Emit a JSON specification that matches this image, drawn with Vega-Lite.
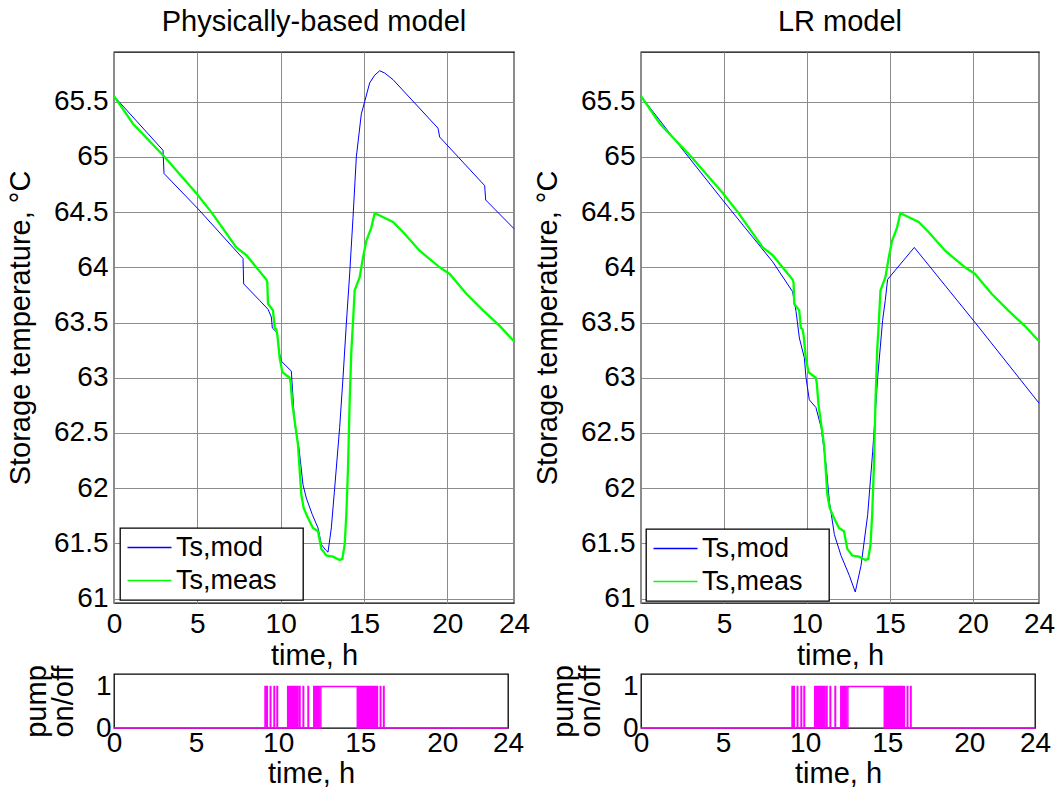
{
  "$schema": "https://vega.github.io/schema/vega-lite/v6.json",
  "autosize": "none",
  "padding": {"left": 114, "top": 52, "right": 946, "bottom": 739},
  "background": "white",
  "columns": 2,
  "spacing": {"row": 71, "column": 127},
  "bounds": "flush",
  "resolve": {"scale": {"color": "independent"}, "legend": {"color": "independent"}},
  "datasets": {
    "meas": [
      {"t": 0, "T": 65.55, "s": "Ts,meas"},
      {"t": 1.14, "T": 65.3, "s": "Ts,meas"},
      {"t": 3.04, "T": 65.0, "s": "Ts,meas"},
      {"t": 4.94, "T": 64.67, "s": "Ts,meas"},
      {"t": 5.84, "T": 64.5, "s": "Ts,meas"},
      {"t": 7.34, "T": 64.18, "s": "Ts,meas"},
      {"t": 7.94, "T": 64.11, "s": "Ts,meas"},
      {"t": 9.14, "T": 63.89, "s": "Ts,meas"},
      {"t": 9.2, "T": 63.86, "s": "Ts,meas"},
      {"t": 9.24, "T": 63.67, "s": "Ts,meas"},
      {"t": 9.54, "T": 63.61, "s": "Ts,meas"},
      {"t": 9.64, "T": 63.45, "s": "Ts,meas"},
      {"t": 9.74, "T": 63.44, "s": "Ts,meas"},
      {"t": 9.8, "T": 63.39, "s": "Ts,meas"},
      {"t": 9.94, "T": 63.18, "s": "Ts,meas"},
      {"t": 10.1, "T": 63.05, "s": "Ts,meas"},
      {"t": 10.54, "T": 63.0, "s": "Ts,meas"},
      {"t": 10.6, "T": 62.95, "s": "Ts,meas"},
      {"t": 10.7, "T": 62.76, "s": "Ts,meas"},
      {"t": 10.84, "T": 62.61, "s": "Ts,meas"},
      {"t": 11.04, "T": 62.39, "s": "Ts,meas"},
      {"t": 11.24, "T": 61.94, "s": "Ts,meas"},
      {"t": 11.38, "T": 61.82, "s": "Ts,meas"},
      {"t": 11.64, "T": 61.73, "s": "Ts,meas"},
      {"t": 11.94, "T": 61.64, "s": "Ts,meas"},
      {"t": 12.24, "T": 61.61, "s": "Ts,meas"},
      {"t": 12.44, "T": 61.45, "s": "Ts,meas"},
      {"t": 12.74, "T": 61.39, "s": "Ts,meas"},
      {"t": 13.14, "T": 61.38, "s": "Ts,meas"},
      {"t": 13.54, "T": 61.35, "s": "Ts,meas"},
      {"t": 13.7, "T": 61.36, "s": "Ts,meas"},
      {"t": 13.84, "T": 61.49, "s": "Ts,meas"},
      {"t": 13.94, "T": 61.76, "s": "Ts,meas"},
      {"t": 14.04, "T": 62.18, "s": "Ts,meas"},
      {"t": 14.14, "T": 62.79, "s": "Ts,meas"},
      {"t": 14.24, "T": 63.24, "s": "Ts,meas"},
      {"t": 14.34, "T": 63.5, "s": "Ts,meas"},
      {"t": 14.44, "T": 63.79, "s": "Ts,meas"},
      {"t": 14.74, "T": 63.91, "s": "Ts,meas"},
      {"t": 14.94, "T": 64.09, "s": "Ts,meas"},
      {"t": 15.14, "T": 64.24, "s": "Ts,meas"},
      {"t": 15.44, "T": 64.36, "s": "Ts,meas"},
      {"t": 15.64, "T": 64.49, "s": "Ts,meas"},
      {"t": 15.94, "T": 64.47, "s": "Ts,meas"},
      {"t": 16.74, "T": 64.41, "s": "Ts,meas"},
      {"t": 17.34, "T": 64.32, "s": "Ts,meas"},
      {"t": 18.34, "T": 64.15, "s": "Ts,meas"},
      {"t": 19.54, "T": 64.0, "s": "Ts,meas"},
      {"t": 20.14, "T": 63.94, "s": "Ts,meas"},
      {"t": 21.14, "T": 63.76, "s": "Ts,meas"},
      {"t": 22.14, "T": 63.61, "s": "Ts,meas"},
      {"t": 23.14, "T": 63.47, "s": "Ts,meas"},
      {"t": 24.0, "T": 63.33, "s": "Ts,meas"}
    ],
    "phys": [
      {"t": 0, "T": 65.55, "s": "Ts,mod"},
      {"t": 2.94, "T": 65.06, "s": "Ts,mod"},
      {"t": 3.0, "T": 64.85, "s": "Ts,mod"},
      {"t": 5.04, "T": 64.53, "s": "Ts,mod"},
      {"t": 7.74, "T": 64.08, "s": "Ts,mod"},
      {"t": 7.78, "T": 63.85, "s": "Ts,mod"},
      {"t": 8.74, "T": 63.7, "s": "Ts,mod"},
      {"t": 9.24, "T": 63.62, "s": "Ts,mod"},
      {"t": 9.44, "T": 63.55, "s": "Ts,mod"},
      {"t": 9.5, "T": 63.45, "s": "Ts,mod"},
      {"t": 9.78, "T": 63.41, "s": "Ts,mod"},
      {"t": 9.9, "T": 63.24, "s": "Ts,mod"},
      {"t": 10.04, "T": 63.15, "s": "Ts,mod"},
      {"t": 10.64, "T": 63.06, "s": "Ts,mod"},
      {"t": 10.84, "T": 62.58, "s": "Ts,mod"},
      {"t": 11.1, "T": 62.36, "s": "Ts,mod"},
      {"t": 11.34, "T": 62.03, "s": "Ts,mod"},
      {"t": 11.54, "T": 61.91, "s": "Ts,mod"},
      {"t": 11.9, "T": 61.76, "s": "Ts,mod"},
      {"t": 12.24, "T": 61.64, "s": "Ts,mod"},
      {"t": 12.44, "T": 61.49, "s": "Ts,mod"},
      {"t": 12.7, "T": 61.44, "s": "Ts,mod"},
      {"t": 12.84, "T": 61.42, "s": "Ts,mod"},
      {"t": 13.04, "T": 61.64, "s": "Ts,mod"},
      {"t": 13.24, "T": 62.0, "s": "Ts,mod"},
      {"t": 13.54, "T": 62.55, "s": "Ts,mod"},
      {"t": 13.74, "T": 63.0, "s": "Ts,mod"},
      {"t": 13.94, "T": 63.49, "s": "Ts,mod"},
      {"t": 14.14, "T": 63.94, "s": "Ts,mod"},
      {"t": 14.34, "T": 64.45, "s": "Ts,mod"},
      {"t": 14.54, "T": 65.0, "s": "Ts,mod"},
      {"t": 14.84, "T": 65.39, "s": "Ts,mod"},
      {"t": 15.04, "T": 65.5, "s": "Ts,mod"},
      {"t": 15.34, "T": 65.67, "s": "Ts,mod"},
      {"t": 15.64, "T": 65.74, "s": "Ts,mod"},
      {"t": 15.94, "T": 65.78, "s": "Ts,mod"},
      {"t": 16.24, "T": 65.76, "s": "Ts,mod"},
      {"t": 16.74, "T": 65.7, "s": "Ts,mod"},
      {"t": 19.44, "T": 65.26, "s": "Ts,mod"},
      {"t": 19.54, "T": 65.18, "s": "Ts,mod"},
      {"t": 22.24, "T": 64.74, "s": "Ts,mod"},
      {"t": 22.3, "T": 64.61, "s": "Ts,mod"},
      {"t": 24.0, "T": 64.35, "s": "Ts,mod"}
    ],
    "lr": [
      {"t": 0, "T": 65.55, "s": "Ts,mod"},
      {"t": 1.91, "T": 65.18, "s": "Ts,mod"},
      {"t": 4.92, "T": 64.61, "s": "Ts,mod"},
      {"t": 7.94, "T": 64.05, "s": "Ts,mod"},
      {"t": 9.14, "T": 63.78, "s": "Ts,mod"},
      {"t": 9.35, "T": 63.6, "s": "Ts,mod"},
      {"t": 9.55, "T": 63.36, "s": "Ts,mod"},
      {"t": 9.85, "T": 63.18, "s": "Ts,mod"},
      {"t": 9.95, "T": 63.0, "s": "Ts,mod"},
      {"t": 10.15, "T": 62.8, "s": "Ts,mod"},
      {"t": 10.55, "T": 62.73, "s": "Ts,mod"},
      {"t": 10.86, "T": 62.55, "s": "Ts,mod"},
      {"t": 11.16, "T": 62.21, "s": "Ts,mod"},
      {"t": 11.36, "T": 61.88, "s": "Ts,mod"},
      {"t": 11.66, "T": 61.58, "s": "Ts,mod"},
      {"t": 12.06, "T": 61.39, "s": "Ts,mod"},
      {"t": 12.56, "T": 61.21, "s": "Ts,mod"},
      {"t": 12.92, "T": 61.06, "s": "Ts,mod"},
      {"t": 13.27, "T": 61.3, "s": "Ts,mod"},
      {"t": 13.67, "T": 61.76, "s": "Ts,mod"},
      {"t": 13.97, "T": 62.33, "s": "Ts,mod"},
      {"t": 14.27, "T": 63.0, "s": "Ts,mod"},
      {"t": 14.57, "T": 63.52, "s": "Ts,mod"},
      {"t": 14.73, "T": 63.7, "s": "Ts,mod"},
      {"t": 14.87, "T": 63.89, "s": "Ts,mod"},
      {"t": 16.48, "T": 64.18, "s": "Ts,mod"},
      {"t": 20.2, "T": 63.49, "s": "Ts,mod"},
      {"t": 24.0, "T": 62.77, "s": "Ts,mod"}
    ],
    "pump": [
      {"t": 0, "p": 0},
      {"t": 9.2, "p": 1}, {"t": 9.23, "p": 0},
      {"t": 9.31, "p": 1}, {"t": 9.34, "p": 0},
      {"t": 9.52, "p": 1}, {"t": 9.55, "p": 0},
      {"t": 9.75, "p": 1}, {"t": 9.78, "p": 0},
      {"t": 9.93, "p": 1}, {"t": 9.96, "p": 0},
      {"t": 10.58, "p": 1}, {"t": 10.61, "p": 0},
      {"t": 10.68, "p": 1}, {"t": 10.71, "p": 0},
      {"t": 10.8, "p": 1}, {"t": 10.83, "p": 0},
      {"t": 10.9, "p": 1}, {"t": 10.93, "p": 0},
      {"t": 10.98, "p": 1}, {"t": 11.01, "p": 0},
      {"t": 11.08, "p": 1}, {"t": 11.11, "p": 0},
      {"t": 11.17, "p": 1}, {"t": 11.2, "p": 0},
      {"t": 11.3, "p": 1}, {"t": 11.33, "p": 0},
      {"t": 11.52, "p": 1}, {"t": 11.55, "p": 0},
      {"t": 11.82, "p": 1}, {"t": 11.85, "p": 0},
      {"t": 12.17, "p": 1}, {"t": 12.2, "p": 0},
      {"t": 12.27, "p": 1}, {"t": 12.3, "p": 0},
      {"t": 12.37, "p": 1}, {"t": 12.4, "p": 0},
      {"t": 12.47, "p": 1}, {"t": 12.5, "p": 0},
      {"t": 12.6, "p": 1}, {"t": 14.82, "p": 0},
      {"t": 14.9, "p": 1}, {"t": 14.93, "p": 0},
      {"t": 14.96, "p": 1}, {"t": 14.99, "p": 0},
      {"t": 15.03, "p": 1}, {"t": 15.06, "p": 0},
      {"t": 15.1, "p": 1}, {"t": 15.13, "p": 0},
      {"t": 15.16, "p": 1}, {"t": 15.19, "p": 0},
      {"t": 15.22, "p": 1}, {"t": 15.25, "p": 0},
      {"t": 15.29, "p": 1}, {"t": 15.32, "p": 0},
      {"t": 15.35, "p": 1}, {"t": 15.38, "p": 0},
      {"t": 15.42, "p": 1}, {"t": 15.45, "p": 0},
      {"t": 15.48, "p": 1}, {"t": 15.51, "p": 0},
      {"t": 15.55, "p": 1}, {"t": 15.58, "p": 0},
      {"t": 15.62, "p": 1}, {"t": 15.65, "p": 0},
      {"t": 15.69, "p": 1}, {"t": 15.72, "p": 0},
      {"t": 15.76, "p": 1}, {"t": 15.79, "p": 0},
      {"t": 15.84, "p": 1}, {"t": 15.87, "p": 0},
      {"t": 15.93, "p": 1}, {"t": 15.96, "p": 0},
      {"t": 16.02, "p": 1}, {"t": 16.05, "p": 0},
      {"t": 16.22, "p": 1}, {"t": 16.25, "p": 0},
      {"t": 16.42, "p": 1}, {"t": 16.45, "p": 0},
      {"t": 24, "p": 0}
    ]
  },
  "concat": [
    {
      "width": 400,
      "height": 551,
      "title": "Physically-based model",
      "encoding": {
        "x": {"field": "t", "type": "quantitative", "scale": {"domain": [0, 24], "nice": false},
              "axis": {"values": [0, 5, 10, 15, 20, 24], "title": "time, h", "grid": true, "labelPadding": 7, "titlePadding": 3}},
        "y": {"field": "T", "type": "quantitative", "scale": {"domain": [60.96, 65.95], "nice": false, "zero": false},
              "axis": {"values": [61, 61.5, 62, 62.5, 63, 63.5, 64, 64.5, 65, 65.5], "format": "~g", "title": "Storage temperature, °C", "grid": true, "labelPadding": 6, "titlePadding": 18}},
        "color": {"field": "s", "type": "nominal", "scale": {"domain": ["Ts,mod", "Ts,meas"], "range": ["#0000ff", "#00ff00"]},
                  "legend": {"orient": "none", "legendX": 6, "legendY": 476, "title": null, "labelExpr": "datum.label + '\u2800'"}}
      },
      "layer": [
        {"data": {"name": "phys"}, "mark": {"type": "line", "strokeWidth": 1}},
        {"data": {"name": "meas"}, "mark": {"type": "line", "strokeWidth": 2.3}}
      ]
    },
    {
      "width": 398,
      "height": 551,
      "title": "LR model",
      "encoding": {
        "x": {"field": "t", "type": "quantitative", "scale": {"domain": [0, 24], "nice": false},
              "axis": {"values": [0, 5, 10, 15, 20, 24], "title": "time, h", "grid": true, "labelPadding": 7, "titlePadding": 3}},
        "y": {"field": "T", "type": "quantitative", "scale": {"domain": [60.96, 65.95], "nice": false, "zero": false},
              "axis": {"values": [61, 61.5, 62, 62.5, 63, 63.5, 64, 64.5, 65, 65.5], "format": "~g", "title": "Storage temperature, °C", "grid": true, "labelPadding": 6, "titlePadding": 18}},
        "color": {"field": "s", "type": "nominal", "scale": {"domain": ["Ts,mod", "Ts,meas"], "range": ["#0000ff", "#00ff00"]},
                  "legend": {"orient": "none", "legendX": 5, "legendY": 477, "title": null, "labelExpr": "datum.label + '\u2800'"}}
      },
      "layer": [
        {"data": {"name": "lr"}, "mark": {"type": "line", "strokeWidth": 1}},
        {"data": {"name": "meas"}, "mark": {"type": "line", "strokeWidth": 2.3}}
      ]
    },
    {
      "width": 394,
      "height": 54,
      "data": {"name": "pump"},
      "mark": {"type": "line", "color": "#ff00ff", "strokeWidth": 1.5, "interpolate": "step-after"},
      "encoding": {
        "x": {"field": "t", "type": "quantitative", "scale": {"domain": [0, 24], "nice": false},
              "axis": {"values": [0, 5, 10, 15, 20, 24], "title": "time, h", "grid": false, "labelPadding": 1, "titlePadding": 2}},
        "y": {"field": "p", "type": "quantitative", "scale": {"domain": [0, 1.3], "nice": false},
              "axis": {"values": [0, 1], "format": "~g", "title": ["pump", "on/off"], "grid": false, "labelPadding": 3, "titlePadding": 17, "titleLineHeight": 27}}
      }
    },
    {
      "width": 394,
      "height": 54,
      "data": {"name": "pump"},
      "mark": {"type": "line", "color": "#ff00ff", "strokeWidth": 1.5, "interpolate": "step-after"},
      "encoding": {
        "x": {"field": "t", "type": "quantitative", "scale": {"domain": [0, 24], "nice": false},
              "axis": {"values": [0, 5, 10, 15, 20, 24], "title": "time, h", "grid": false, "labelPadding": 1, "titlePadding": 2}},
        "y": {"field": "p", "type": "quantitative", "scale": {"domain": [0, 1.3], "nice": false},
              "axis": {"values": [0, 1], "format": "~g", "title": ["pump", "on/off"], "grid": false, "labelPadding": 3, "titlePadding": 17, "titleLineHeight": 27}}
      }
    }
  ],
  "config": {
    "font": "Liberation Sans",
    "view": {"stroke": "black", "strokeWidth": 1.3},
    "axis": {
      "labelFont": "Liberation Sans", "labelFontSize": 28, "labelColor": "black",
      "titleFont": "Liberation Sans", "titleFontSize": 29, "titleFontWeight": "normal", "titleColor": "black",
      "domain": false, "ticks": false, "tickSize": 0,
      "gridColor": "#8c8c8c", "gridWidth": 1, "gridOpacity": 1,
      "labelFlush": false, "labelOverlap": false
    },
    "title": {"font": "Liberation Sans", "fontSize": 29, "fontWeight": "normal", "color": "black", "offset": 15},
    "legend": {
      "labelFont": "Liberation Sans", "labelFontSize": 27, "labelColor": "black", "labelOffset": 13,
      "symbolType": "M-2,0H2", "symbolSize": 484, "symbolStrokeWidth": 1.5, "symbolOffset": 10,
      "strokeColor": "black", "fillColor": "white", "padding": 6, "rowPadding": 5, "cornerRadius": 0, "strokeWidth": 1.3
    }
  }
}
